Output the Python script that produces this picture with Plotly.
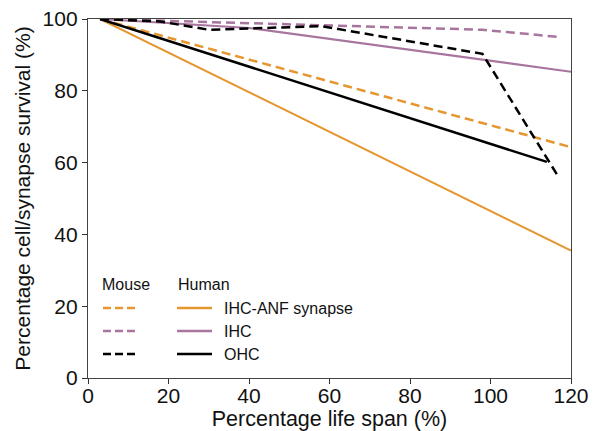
import plotly.graph_objects as go

# ---- data ----
mouse_syn_x = [3, 120]
mouse_syn_y = [100, 64.3]
human_syn_x = [3, 120]
human_syn_y = [100, 35.5]
mouse_ihc_x = [3, 98, 117]
mouse_ihc_y = [100, 97, 95]
human_ihc_x = [3, 40, 120]
human_ihc_y = [100, 97.5, 85.3]
mouse_ohc_x = [3, 18, 30, 58, 98, 117]
mouse_ohc_y = [100, 99.3, 97, 98, 90.3, 55.8]
human_ohc_x = [3, 114]
human_ohc_y = [100, 60.2]

x_ticks = [0, 20, 40, 60, 80, 100, 120]
y_ticks = [0, 20, 40, 60, 80, 100]

ORANGE = "#E5962F"
PURPLE = "#A8759E"
BLACK = "#000000"
DASH = "9px,5px"

fig = go.Figure()

def add(x, y, color, dash, width):
    fig.add_trace(go.Scatter(x=x, y=y, mode="lines",
                             line=dict(color=color, width=width, dash=dash),
                             showlegend=False, hoverinfo="skip"))

add(human_syn_x, human_syn_y, ORANGE, "solid", 2)
add(mouse_syn_x, mouse_syn_y, ORANGE, DASH, 2.5)
add(human_ihc_x, human_ihc_y, PURPLE, "solid", 2.2)
add(mouse_ihc_x, mouse_ihc_y, PURPLE, DASH, 2.5)
add(human_ohc_x, human_ohc_y, BLACK, "solid", 2.5)
add(mouse_ohc_x, mouse_ohc_y, BLACK, DASH, 2.5)

# ---- manual two-column legend ----
FONT = "Liberation Sans, Arial, sans-serif"
L, R, T, B = 88, 571, 19, 378
def px(x): return (x - L) / (R - L)
def py(y): return (B - y) / (B - T)

rows = [("IHC-ANF synapse", ORANGE, 308), ("IHC", PURPLE, 331), ("OHC", BLACK, 354)]
shapes = []
annotations = []
for label, col, yy in rows:
    shapes.append(dict(type="line", xref="paper", yref="paper",
                       x0=px(103), x1=px(136), y0=py(yy), y1=py(yy),
                       line=dict(color=col, width=2.5, dash="8px,4px")))
    shapes.append(dict(type="line", xref="paper", yref="paper",
                       x0=px(177), x1=px(212), y0=py(yy), y1=py(yy),
                       line=dict(color=col, width=2.5)))
    annotations.append(dict(text=label, xref="paper", yref="paper",
                            x=px(222), y=py(yy), xanchor="left", yanchor="middle",
                            showarrow=False, font=dict(size=16, color="#111", family=FONT)))
annotations.append(dict(text="Mouse", xref="paper", yref="paper", x=px(100), y=py(284),
                        xanchor="left", yanchor="middle", showarrow=False,
                        font=dict(size=16, color="#111", family=FONT)))
annotations.append(dict(text="Human", xref="paper", yref="paper", x=px(176), y=py(284),
                        xanchor="left", yanchor="middle", showarrow=False,
                        font=dict(size=16, color="#111", family=FONT)))

fig.update_layout(
    width=600, height=431,
    margin=dict(l=L, r=600 - R, t=T, b=431 - B, autoexpand=False),
    paper_bgcolor="white", plot_bgcolor="white",
    font=dict(family=FONT, size=21, color="#111"),
    shapes=shapes, annotations=annotations,
    showlegend=False,
)
fig.update_xaxes(range=[0, 120], tickvals=x_ticks, ticks="outside", ticklen=5,
                 tickcolor="#333", showline=True, linecolor="#444", linewidth=1.3,
                 mirror=True, showgrid=False, zeroline=False, automargin=False,
                 ticklabelstandoff=-6,
                 title=dict(text="Percentage life span (%)", font=dict(size=21.5), standoff=6),
                 tickfont=dict(size=21))
fig.update_yaxes(range=[0, 100], tickvals=y_ticks, ticks="outside", ticklen=5,
                 tickcolor="#333", showline=True, linecolor="#444", linewidth=1.3,
                 mirror=True, showgrid=False, zeroline=False, automargin=False,
                 title=dict(text="Percentage cell/synapse survival (%)", font=dict(size=21), standoff=6),
                 tickfont=dict(size=21))

fig.write_html("out.html", config={"displayModeBar": False},
               post_script="document.body.style.margin='0';document.body.style.padding='0';")
